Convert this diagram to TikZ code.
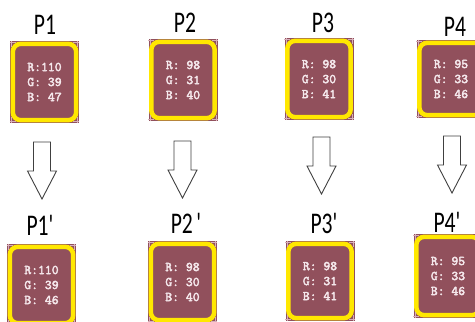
\documentclass[tikz,border=0pt]{standalone}
\usepackage{fontspec}
\usepackage{graphicx}
\newfontfamily\labfont{Carlito}
\newfontfamily\chipfont[FakeBold=3]{Latin Modern Mono}
\definecolor{chipbrown}{RGB}{145,80,92}
\definecolor{chipyellow}{RGB}{255,232,0}
\definecolor{chiptext}{RGB}{245,232,236}
\definecolor{tickpink}{RGB}{215,175,185}
\newcommand\chipbox[5]{% name, x, y, height, text
  \node[chip, minimum height=#4pt] (#1) at (#2,#3) {#5};
  \draw[yelring] ([shift={(3,3)}]#1.north west) rectangle ([shift={(-3,-3)}]#1.south east);
  \draw[cornertick] ([shift={(0,1.5)}]#1.north west) -- ++(6,0);
  \draw[cornertick] ([shift={(1.5,0)}]#1.north west) -- ++(0,6);
  \draw[cornertick] ([shift={(0,1.5)}]#1.north east) -- ++(-6,0);
  \draw[cornertick] ([shift={(-1.5,0)}]#1.north east) -- ++(0,6);
  \draw[cornertick] ([shift={(0,-1.5)}]#1.south west) -- ++(6,0);
  \draw[cornertick] ([shift={(1.5,0)}]#1.south west) -- ++(0,-6);
  \draw[cornertick] ([shift={(0,-1.5)}]#1.south east) -- ++(-6,0);
  \draw[cornertick] ([shift={(-1.5,0)}]#1.south east) -- ++(0,-6);
}
\newcommand\downarr[3]{% name, x of centre, y of top
  \coordinate (#1) at (#2,#3);
  \draw[arrowshape] ([xshift=-8.5pt]#1) -- ++(17,0) -- ++(0,29) -- ++(6,0)
    -- ++(-14.5,28) -- ++(-14.5,-28) -- ++(6,0) -- cycle;
}
\begin{document}
\begin{tikzpicture}[x=1pt,y=-1pt,
  chip/.style={rectangle, fill=chipbrown, minimum width=69pt, inner sep=0pt,
    text=chiptext, align=center, font=\chipfont\fontsize{13.3}{15}\selectfont},
  yelring/.style={draw=chipyellow, line width=4.5pt, rounded corners=8pt},
  cornertick/.style={draw=tickpink, line width=0.6pt},
  lab/.style={inner sep=0pt, font=\labfont\fontsize{30}{30}\selectfont},
  arrowshape/.style={draw=black!75, fill=white, line width=0.9pt, line join=miter}]
\path[use as bounding box, fill=white] (0,0) rectangle (475,322);
\clip (0,0) rectangle (475,322);
% top labels
\node[lab] (l1) at (45,25) {\scalebox{0.72}[1]{P1}};
\node[lab] (l2) at (185,23) {\scalebox{0.72}[1]{P2}};
\node[lab] (l3) at (323,23) {\scalebox{0.72}[1]{P3}};
\node[lab] (l4) at (455,27) {\scalebox{0.72}[1]{P4}};
% top chips
\chipbox{c1}{44.5}{82}{82}{R:110\\G:~39\\B:~47}
\chipbox{c2}{183}{80}{82}{R:~98\\G:~31\\B:~40}
\chipbox{c3}{319}{79}{82}{R:~98\\G:~30\\B:~41}
\chipbox{c4}{451}{79}{78}{R:~95\\G:~33\\B:~46}
% arrows
\downarr{a1}{42}{142}
\downarr{a2}{182.5}{141}
\downarr{a3}{321.5}{137}
\downarr{a4}{452}{136}
% bottom labels
\node[lab] (m1) at (40,225) {\scalebox{0.72}[1]{P1'}};
\node[lab] (m2) at (186,223) {\scalebox{0.72}[1]{P2\,'}};
\node[lab] (m3) at (324,223) {\scalebox{0.72}[1]{P3'}};
\node[lab] (m4) at (447,222) {\scalebox{0.72}[1]{P4'}};
% bottom chips
\chipbox{d1}{41.5}{285}{82}{R:110\\G:~39\\B:~46}
\chipbox{d2}{182.5}{282}{82}{R:~98\\G:~30\\B:~40}
\chipbox{d3}{320}{281}{80}{R:~98\\G:~31\\B:~41}
\chipbox{d4}{448}{276}{84}{R:~95\\G:~33\\B:~46}
\end{tikzpicture}
\end{document}
